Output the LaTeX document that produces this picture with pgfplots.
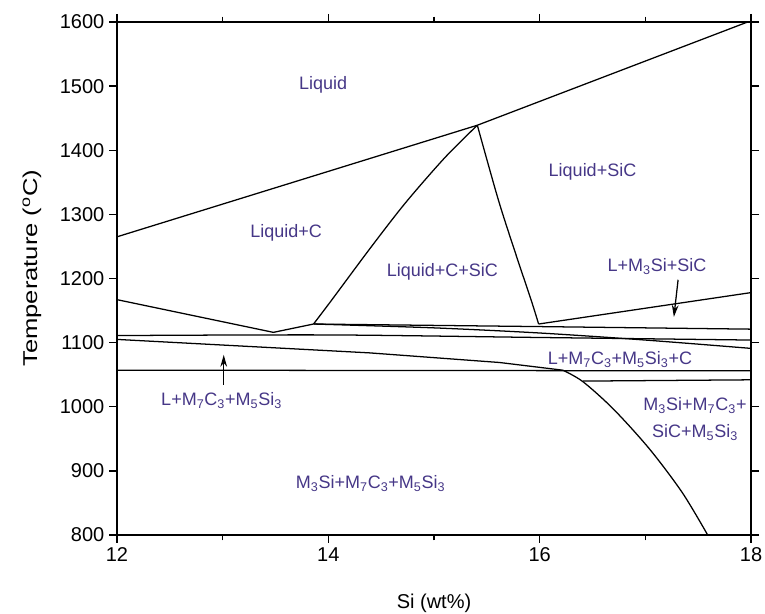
\documentclass[border=0pt]{standalone}
\usepackage{fontspec}
\setmainfont{Liberation Sans}
\usepackage{graphicx}
\usepackage{pgfplots}
\pgfplotsset{compat=1.18}
\usetikzlibrary{arrows.meta}
\definecolor{lab}{RGB}{70,55,135}
\begin{document}
\begin{tikzpicture}
\begin{axis}[
  name=ax,
  width=475.5pt, height=384.75pt, scale only axis,
  xmin=12, xmax=18, ymin=800, ymax=1600,
  xtick={12,14,16,18}, minor xtick={13,15,17},
  ytick={800,900,...,1600},
  tick align=outside,
  major tick length=6pt, minor tick length=4pt,
  /pgf/number format/assume math mode=true,
  /pgf/number format/1000 sep={},
  tick label style={font=\fontsize{15}{18}\selectfont},
  xlabel={Si (wt\%)},
  ylabel={\scalebox{1.28}[1]{Temperature (\textsuperscript{o}C)}},
  every axis x label/.style={at={(rel axis cs:0.5,0)}, yshift=-51pt, anchor=center, font=\fontsize{15}{18}\selectfont},
  every axis y label/.style={at={(rel axis cs:0,0.52)}, xshift=-63.75pt, rotate=90, anchor=center, font=\fontsize{15}{18}\selectfont},
  axis line style={line width=1.1pt},
  every tick/.style={black, line width=1pt},
  every axis plot post/.style={black, solid, line width=0.95pt, mark=none},
  clip=true,
]
% liquidus
\addplot coordinates {(12,1265) (15.41,1439) (18,1602)};
% peak-left boundary
\addplot[smooth, tension=0.5] coordinates {(13.86,1129) (14.03,1166) (14.4,1248) (14.73,1318) (15.1,1388) (15.41,1439)};
% peak-right boundary
\addplot[smooth, tension=0.5] coordinates {(15.41,1439) (15.61,1322) (15.78,1235) (15.92,1166) (15.99,1129)};
% rising line
\addplot coordinates {(15.99,1129) (18,1178)};
% left V
\addplot coordinates {(12,1167) (13.48,1116) (13.86,1129)};
% line A
\addplot coordinates {(13.86,1129) (16,1125) (18,1121)};
% line G
\addplot[smooth] coordinates {(13.86,1129) (15,1123) (16,1115) (17,1104) (18,1091)};
% line B
\addplot[smooth] coordinates {(12,1111) (14,1112) (16,1108) (18,1104)};
% line C
\addplot coordinates {(12,1105) (14.39,1084) (15.62,1069) (16.22,1057)};
% line D
\addplot coordinates {(12,1057) (18,1056)};
% curve down
\addplot[smooth] coordinates {(16.22,1057) (16.41,1039) (16.7,996) (17.04,934) (17.35,866) (17.59,800)};
% line E
\addplot coordinates {(16.41,1040) (18,1042)};
% arrows
\addplot[-{Stealth[length=9pt,width=5pt]}] coordinates {(17.31,1198) (17.27,1140)};
\addplot[-{Stealth[length=9pt,width=5pt]}] coordinates {(13.01,1034) (13.01,1081)};
% labels
\begin{scope}[every node/.style={text=lab, font=\fontsize{13.5}{20}\selectfont, align=center}]
\node at (axis cs:13.95,1502) {Liquid};
\node at (axis cs:13.6,1271) {Liquid+C};
\node at (axis cs:15.08,1210) {Liquid+C+SiC};
\node at (axis cs:16.5,1366) {Liquid+SiC};
\node at (axis cs:17.11,1218) {L+M\textsubscript{3}Si+SiC};
\node at (axis cs:16.76,1074) {L+M\textsubscript{7}C\textsubscript{3}+M\textsubscript{5}Si\textsubscript{3}+C};
\node at (axis cs:17.47,981) {M\textsubscript{3}Si+M\textsubscript{7}C\textsubscript{3}+\\SiC+M\textsubscript{5}Si\textsubscript{3}};
\node at (axis cs:12.99,1010) {L+M\textsubscript{7}C\textsubscript{3}+M\textsubscript{5}Si\textsubscript{3}};
\node at (axis cs:14.4,880) {M\textsubscript{3}Si+M\textsubscript{7}C\textsubscript{3}+M\textsubscript{5}Si\textsubscript{3}};
\end{scope}
\end{axis}
\path (ax.south west) ++(-87.75pt,-59.25pt) coordinate (bl);
\path (ax.north east) ++(10.5pt,16.5pt) coordinate (tr);
\pgfresetboundingbox
\useasboundingbox (bl) rectangle (tr);
\end{tikzpicture}
\end{document}
